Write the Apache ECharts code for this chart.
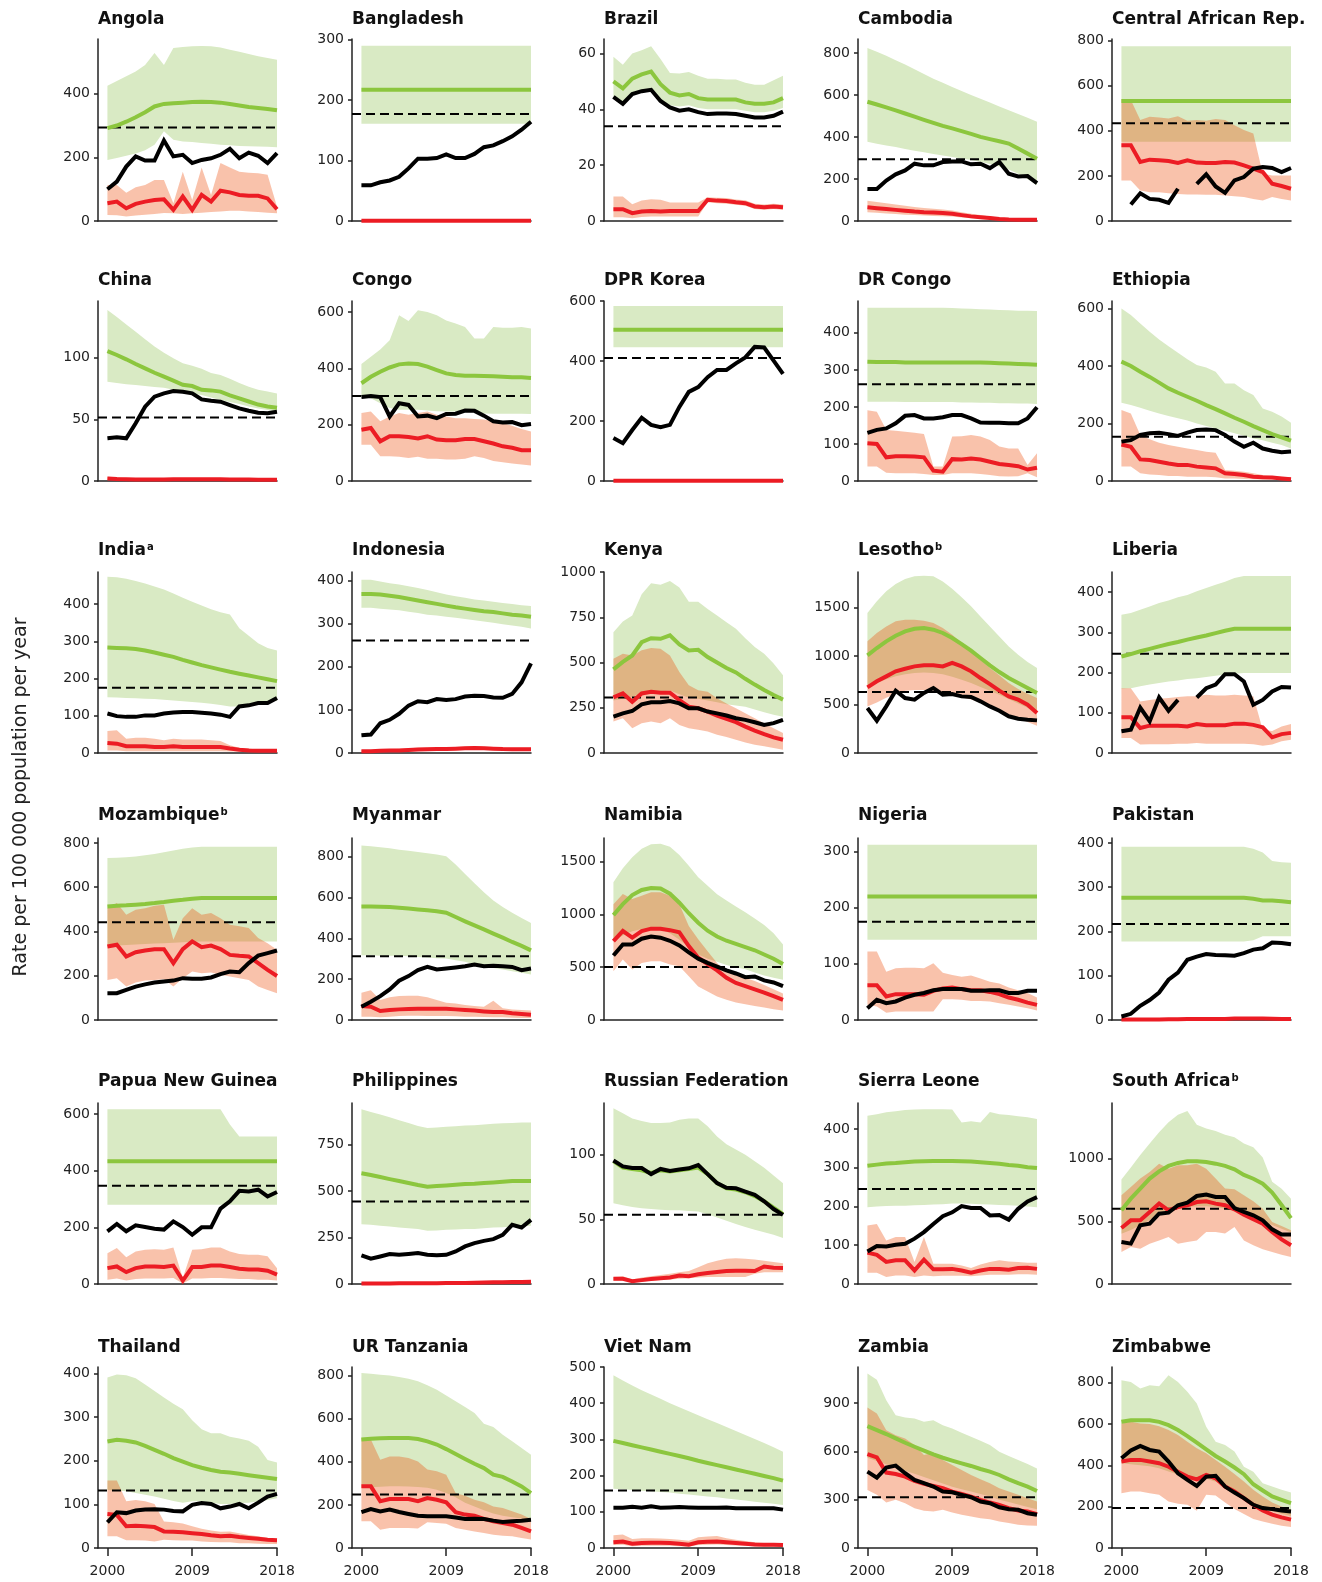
<!DOCTYPE html>
<html><head><meta charset="utf-8">
<script src="https://cdn.jsdelivr.net/npm/echarts@6/dist/echarts.min.js"></script>
<style>html,body{margin:0;padding:0;background:#fff}#c{width:1322px;height:1582px}</style>
</head><body><div id="c"></div>
<script>
// ---------------- DATA ----------------
const years = [2000,2001,2002,2003,2004,2005,2006,2007,2008,2009,2010,2011,2012,2013,2014,2015,2016,2017,2018];
const countries = ['Angola','Bangladesh','Brazil','Cambodia','Central African Rep.','China','Congo','DPR Korea','DR Congo','Ethiopia','India','Indonesia','Kenya','Lesotho','Liberia','Mozambique','Myanmar','Namibia','Nigeria','Pakistan','Papua New Guinea','Philippines','Russian Federation','Sierra Leone','South Africa','Thailand','UR Tanzania','Viet Nam','Zambia','Zimbabwe'];
const footnotes = ['','','','','','','','','','','a','','','b','','b','','','','','','','','','b','','','','',''];
const yMax  = [572,301,65.2,867,807,146,639,600,486,626,486,420,1000,1864,450,822,891,1722,324,411,639,973,140,467,1444,415,840,500,1123,875];
const yStep = [200,100,20,200,200,50,200,200,100,200,100,100,250,500,100,200,200,500,100,100,200,250,50,100,500,100,200,100,300,200];
const xTicks = [2000,2009,2018];
// dashed line (milestone)
const milestone = [294,177,33.9,294,433,51.6,302,410,261,154,175,261,307,628,247,441,312,502,175,217,347,443,53.6,245,601,132,248,159,315,193];

// estimated incidence (green line)
const estMid = [
[292,300,312,326,342,360,368,370,372,374,375,374,372,368,363,358,355,352,348],
[217,217,217,217,217,217,217,217,217,217,217,217,217,217,217,217,217,217,217],
[50,47.5,51,52.5,53.5,49,46,45,45.5,44,43.5,43.5,43.5,43.5,42.5,42,42,42.5,44],
[568,555,541,527,512,497,482,467,453,441,428,415,401,390,380,369,345,321,297],
[532,532,532,532,532,532,532,532,532,532,532,532,532,532,532,532,532,532,532],
[105.4,102.2,98.7,94.9,91.4,87.8,84.6,81.4,78,77,74,73.5,72.5,69.5,67,64.5,62,60.5,59.5],
[347,370,388,403,414,417,415,406,394,382,376,374,374,373,372,370,368,368,366],
[504,504,504,504,504,504,504,504,504,504,504,504,504,504,504,504,504,504,504],
[322,321,321,321,320,320,320,320,320,320,320,320,320,319,318,317,316,315,314],
[415,400,380,362,342,322,307,293,279,264,250,235,220,206,191,177,163,152,140],
[283,282,281,279,275,270,264,258,250,243,236,230,224,218,213,208,203,198,193],
[369,369,368,365,362,358,354,350,346,342,338,335,332,329,327,324,321,319,316],
[462,503,539,612,634,631,650,600,567,570,530,500,470,445,410,378,348,320,295],
[1006,1081,1150,1208,1253,1280,1287,1270,1236,1184,1122,1054,978,903,834,772,721,669,618],
[240,246,253,259,265,271,276,282,287,292,298,304,309,309,309,309,309,309,309],
[513,516,518,521,524,528,533,539,543,548,551,551,551,551,551,551,551,551,551],
[556,556,554,553,550,546,541,537,532,525,504,483,463,444,423,403,382,363,341],
[992,1096,1182,1230,1249,1245,1195,1110,1010,920,845,790,750,720,690,660,620,580,530],
[220,220,220,220,220,220,220,220,220,220,220,220,220,220,220,220,220,220,220],
[276,276,276,276,276,276,276,276,276,276,276,276,276,276,274,270,270,268,266],
[433,433,433,433,433,433,433,433,433,433,433,433,433,433,433,433,433,433,433],
[595,586,575,564,554,543,532,523,527,530,534,538,539,543,546,550,554,554,554],
[95,90,89,88,86,88,87,88,89,90,85,78,74,73,71,68,64,59,54],
[305,308,311,312,314,316,317,317.5,317.5,317.5,317,316,314,312,310,307,305,301,299],
[588,681,761,841,899,942,966,979,979,974,960,942,915,870,840,800,730,630,525],
[244,248,246,242,234,225,216,206,198,190,184,179,175,173,170,167,164,161,158],
[503,507,509,510,510,510,506,495,480,459,436,413,391,371,340,330,309,286,255],
[296,290,284,278,272,266,260,254,248,241,235,229,223,217,211,205,199,193,186],
[756,731,707,680,653,628,604,581,560,542,525,509,490,474,453,426,402,381,354],
[610,618,618,618,610,594,570,541,509,477,445,418,389,357,308,278,249,233,217]
];
// green band upper
const estHi = [
[425,440,455,470,490,528,490,544,547,549,550,549,545,538,532,525,518,512,507],
[290,290,290,290,290,290,290,290,290,290,290,290,290,290,290,290,290,290,290],
[58.8,56,60,61.2,62.6,58,53,52.8,53.4,52,51,51,50.7,50.7,49.5,48.8,48.8,50.4,52],
[824,806,787,766,745,723,700,678,658,638,619,600,582,564,546,528,510,492,473],
[775,775,775,775,775,775,775,775,775,775,775,775,775,775,775,775,775,775,775],
[138.7,133,127,121,115,109,104,99.5,95.5,93.5,91,87.5,86,83,79.5,76.5,74,72.5,71],
[415,441,467,500,588,568,606,600,588,570,559,547,506,506,547,544,544,547,541],
[583,583,583,583,583,583,583,583,583,583,583,583,583,583,583,583,583,583,583],
[468,468,468,468,468,468,468,468,468,467,466,465,464,463,462,461,460,460,459],
[600,577,548,519,492,469,446,423,403,395,380,339,339,316,299,252,241,224,203],
[473,472,468,462,455,447,439,428,417,406,396,386,378,372,335,315,295,282,275],
[402,402,398,394,391,387,383,378,373,368,364,360,356,354,351,348,346,343,341],
[667,726,759,877,938,929,950,914,835,835,795,759,722,686,634,585,548,494,430],
[1441,1562,1665,1740,1791,1819,1826,1819,1767,1692,1603,1510,1407,1304,1201,1098,1012,937,875],
[344,348,356,364,373,379,387,393,402,410,418,426,435,440,440,440,440,440,440],
[732,733,735,739,744,750,758,765,773,779,783,783,783,783,783,783,783,783,783],
[854,850,846,841,834,829,823,816,810,802,761,715,670,626,585,553,525,499,475],
[1303,1436,1541,1621,1662,1668,1640,1560,1460,1350,1271,1190,1130,1075,1020,960,900,820,715],
[312,312,312,312,312,312,312,312,312,312,312,312,312,312,312,312,312,312,312],
[391,391,391,391,391,391,391,391,391,391,391,391,391,391,387,378,359,356,355],
[617,617,617,617,617,617,617,617,617,617,617,617,617,563,521,521,521,521,521],
[939,925,911,897,880,866,850,839,841,845,848,852,854,857,861,864,866,868,868],
[136,132,128,126,124.5,124.5,125,127,128,128,122,114,108,104,100,95,90,84,78],
[434,438,443,446,449,450,451,451,451,450,417,420,417,444,438,436,433,430,426],
[833,930,1030,1120,1210,1290,1350,1380,1270,1240,1220,1190,1170,1120,1090,1010,815,760,680],
[391,398,396,389,375,360,345,331,318,293,272,263,263,255,251,246,232,202,196],
[812,809,804,800,794,786,774,755,735,708,681,654,627,577,562,526,495,464,433],
[477,463,449,436,424,412,400,389,378,367,356,345,334,323,312,301,290,278,266],
[1082,1044,917,824,810,803,783,793,762,742,715,690,665,639,597,571,546,521,494],
[811,803,771,787,782,835,803,755,699,586,514,498,466,393,369,313,297,281,268]
];
// green band lower
const estLo = [
[192,198,205,212,222,240,282,255,250,248,245,243,240,238,236,235,234,233,232],
[161,161,161,161,161,161,161,161,161,161,161,161,161,161,161,161,161,161,161],
[44,41.5,45,46.5,47.5,43.5,41.5,41,41.5,40.5,40,40,40,40,39.5,39,39,39.5,40.5],
[377,368,360,352,343,335,327,319,312,305,298,290,282,272,260,245,225,200,170],
[351,351,351,351,351,351,351,351,351,351,351,351,351,351,351,351,351,351,351],
[80.5,79.5,78.5,77.8,77,76.3,75.7,74,72.4,71,69.7,67.7,65.7,64,62.4,60.5,58.9,57.5,56.2],
[300,294,276,259,253,253,253,250,248,247,247,247,247,240,239,239,239,239,238],
[446,446,446,446,446,446,446,446,446,446,446,446,446,446,446,446,446,446,446],
[214,214,214,214,213,213,213,213,213,213,212,212,211,211,210,210,209,209,208],
[272,264,255,244,235,226,218,210,200,191,183,175,166,157,148,142,133,125,113],
[150,149,148,147,146,145,143,141,139,137,135,132,129,125,125,130,135,138,140],
[337,337,335,333,331,328,325,321,319,316,314,311,308,305,302,299,296,293,289],
[290,300,310,330,340,340,345,325,305,300,290,280,270,262,255,240,225,212,200],
[680,720,760,790,810,825,830,825,810,785,755,720,680,640,600,555,510,465,420],
[160,161,166,170,174,178,180,184,186,189,192,195,197,199,199,199,199,199,199],
[335,337,339,341,343,345,347,349,351,353,355,355,355,355,355,355,355,355,355],
[317,317,315,314,314,312,309,306,302,301,293,285,273,263,255,247,239,231,223],
[750,800,840,860,870,860,820,760,690,620,580,550,520,500,480,450,420,400,380],
[143,143,143,143,143,143,143,143,143,143,143,143,143,143,143,143,143,143,143],
[177,177,177,177,177,177,177,177,177,177,177,177,177,177,180,189,189,189,189],
[280,280,280,280,280,280,280,280,280,280,280,280,280,280,280,280,280,280,280],
[321,318,313,309,304,300,295,286,288,291,293,295,296,300,304,305,309,311,313],
[62.5,61,59.5,58.5,58,57.5,57,57,56.5,56,54,51.5,49,46.5,44,42,40,38,35.5],
[198,200,201,202,202,203,204,205,206,208,208,207,206,205,204,203,202,200,198],
[400,430,470,510,550,580,600,615,620,620,615,600,580,555,530,500,470,440,410],
[133,132,130,126,122,118,113,108,104,107,107,104,101,101,103,104,107,110,114],
[280,282,284,286,286,285,283,280,270,255,235,210,193,175,160,150,143,137,131],
[164,162,160,158,157,155,153,150,148,145,142,140,137,134,131,128,125,122,119],
[560,540,520,500,480,460,440,420,400,380,365,350,335,320,300,285,270,255,240],
[410,405,400,395,385,370,355,345,340,335,320,300,270,240,215,195,180,165,155]
];
// HIV-positive incidence (red line)
const hivMid = [
[56,61,40,54,61,66,68,35,77,35,82,61,95,90,82,79,79,71,37],
[0.4,0.4,0.4,0.4,0.4,0.4,0.4,0.4,0.4,0.4,0.4,0.4,0.4,0.4,0.4,0.4,0.4,0.4,0.4],
[4.2,4.2,2.8,3.4,3.6,3.4,3.6,3.6,3.6,3.6,7.6,7.3,7.2,6.7,6.4,5.2,4.9,5.2,4.9],
[65,61,57,53,49,45,42,40,38,34,28,22,18,14,10,7,6,6,6],
[336,336,262,272,269,266,257,269,259,257,257,262,259,247,232,217,165,155,143],
[2,1.6,1.4,1.3,1.3,1.3,1.3,1.4,1.4,1.4,1.4,1.4,1.4,1.3,1.2,1.2,1.1,1.1,1.1],
[182,188,141,159,159,156,151,159,147,145,145,149,149,141,133,123,118,109,109],
[1,1,1,1,1,1,1,1,1,1,1,1,1,1,1,1,1,1,1],
[102,100,64,67,67,66,64,28,25,59,58,61,58,52,46,43,40,31,36],
[127,119,75,73,67,61,56,56,50,47,44,27,24,21,15,13,12,9,6],
[27,25,18,18,18,16,16,18,16,16,16,16,16,12,9,7,6,6,6],
[4,4,5,6,6,7,8,8.5,9,9,10,11,11.5,11,10,9,8.5,8.5,8.5],
[307,329,283,329,338,333,333,292,256,247,229,207,188,170,146,124,104,86,73],
[676,738,789,841,868,892,903,903,892,927,892,841,772,710,642,583,549,498,412],
[89,89,62,68,68,68,68,66,72,69,69,69,73,73,70,64,39,47,50],
[332,340,287,306,314,320,320,257,320,355,329,336,320,294,290,287,257,226,199],
[68,65,44,49,52,54,55,55,55,55,52,49,46,42,39,39,33,29,26],
[747,842,779,842,864,864,850,830,700,590,530,470,400,350,320,290,260,225,190],
[62,62,42,46,46,46,45,52,56,58,55,53,53,50,46,40,36,31,27],
[1,1,1,1,1,1.5,1.5,2,2,2,2.5,2,3.5,3.5,3.5,3.5,3,2,2],
[56,62,42,56,62,62,60,65,12,60,60,65,65,60,54,51,51,47,33],
[3,3,3,3,3.5,4,4,4,4.5,5,5.5,6,7,8,9,10,11,11,12],
[4,4,2.2,3,3.8,4.5,5,6.5,6,7.5,8.5,9.3,10,10.3,10.3,10,13.5,12.5,12.3],
[81,75,57,61,61,35,63,38,38,39,35,29,35,39,39,37,41,42,39],
[447,508,508,575,641,588,614,628,654,660,641,628,596,553,516,481,415,356,309],
[78,76,50,51,50,48,38,37,36,34,32,29,27,28,25,23,21,19,18],
[286,286,217,227,227,227,217,232,224,212,166,155,150,135,124,116,108,93,77],
[16,18,12,14,14.5,14.5,14,12,9,16,17,18,16,14,12,10,9,9,8],
[583,562,468,459,443,416,398,385,371,350,336,319,299,282,268,247,233,227,210],
[418,426,426,418,410,393,369,345,332,353,337,297,273,241,209,181,161,148,137]
];
// red band upper (null = no band drawn)
const hivHi = [
[113,113,89,106,113,129,129,56,155,66,168,82,182,168,155,152,150,145,45],
null,
[8.8,8.8,6,7.3,7.8,7.6,6.6,6.6,6.6,6.6,8.5,8.3,8.2,7.7,7.4,6.2,5.9,6.2,5.9],
[97,91,85,79,73,67,62,58,55,50,42,34,28,22,17,13,11,10,10],
[540,537,448,462,459,455,465,445,448,445,452,448,425,403,388,210,202,202,202],
[3.5,3,2.5,2.3,2.2,2.2,2.2,2.3,2.3,2.3,2.3,2.3,2.3,2.2,2,2,1.9,1.9,1.9],
[241,247,212,229,241,235,241,247,235,229,223,223,220,218,212,206,196,185,176],
null,
[191,187,138,136,133,130,127,39,39,120,121,124,120,111,93,88,88,43,75],
[247,235,160,145,133,125,119,113,108,102,98,38,36,32,27,21,17,15,13],
[59,61,38,41,41,38,34,38,36,36,36,34,32,21,14,12,9,9,9],
[7,7,8,9,10,11,12,13,13,14,14,15,16,15,14,13,12,12,12],
[521,548,539,567,580,576,539,448,375,347,338,302,274,247,219,192,165,137,110],
[1150,1236,1304,1356,1373,1373,1362,1338,1287,1218,1133,1047,961,875,800,721,660,610,566],
[161,161,128,132,135,137,139,141,141,145,143,143,145,143,141,58,55,66,72],
[505,528,475,498,505,516,521,362,460,505,475,483,460,430,423,415,370,347,317],
[133,146,98,111,117,119,119,111,98,85,81,73,68,65,94,57,52,49,46],
[1096,1192,1144,1176,1208,1208,1176,1096,890,763,651,540,461,430,400,370,330,290,250],
[122,122,86,92,93,93,92,101,84,80,77,79,74,68,65,58,53,48,40],
null,
[109,127,94,115,121,123,121,129,21,121,123,129,129,115,106,103,103,98,56],
null,
[5.5,6,3.5,5,6,7,8,9,10,13,16,18,19.5,20,19.5,19,18,17,16],
[151,155,112,121,121,57,121,52,52,52,48,41,50,57,61,58,57,55,55],
[708,774,841,894,960,920,947,947,960,920,841,761,755,708,660,601,495,463,428],
[155,155,107,110,107,101,61,59,56,50,44,40,37,38,34,30,27,23,21],
[510,503,410,425,425,418,402,364,356,340,255,243,224,212,193,186,170,155,135],
[35,37,25,27,27,26,25,23,20,30,32,33,27,23,19,16,14,13,12],
[871,834,731,700,680,639,577,591,546,515,484,453,426,402,371,350,330,309,288],
[602,610,602,599,589,570,546,514,482,458,426,393,358,321,281,249,220,201,185]
];
// red band lower
const hivLo = [
[19,18,14,17,20,22,25,24,22,24,26,28,30,32,32,30,28,26,24],
null,
[1.3,1.3,1,1.4,1.6,1.6,1.6,1.6,1.6,1.6,6.7,6.4,6.2,5.8,5.5,4.3,4,4.3,4],
[42,39,36,33,30,28,26,24,23,21,17,13,10,7,5,3,2,2,2],
[180,180,135,128,128,123,120,117,117,116,116,113,110,106,98,91,106,98,91],
[1,0.8,0.7,0.6,0.6,0.6,0.6,0.6,0.6,0.6,0.6,0.6,0.6,0.6,0.5,0.5,0.5,0.5,0.5],
[129,129,88,88,86,82,86,79,79,76,76,79,88,82,71,67,62,59,55],
null,
[39,39,22,21,21,21,19,16,16,21,21,21,19,16,13,12,13,21,10],
[50,50,27,23,21,17,17,15,15,15,13,9,9,7,6,5,5,3,2],
[7,7,5,5,5,5,5,5,5,5,5,5,5,4,4,4,4,4,4],
[2,2,3,3.5,4,4.5,5,5.5,6,6,6.5,7,7.5,7,6.5,6,5.5,5.5,5.5],
[174,192,137,165,174,165,192,155,137,128,119,101,88,73,58,46,37,27,18],
[480,520,570,610,640,650,650,640,620,600,575,550,520,480,440,400,360,320,280],
[37,37,21,22,22,22,23,23,25,23,23,23,23,23,22,18,21,29,33],
[181,189,151,169,178,181,184,151,189,219,211,214,204,196,189,181,151,136,121],
[16,16,13,16,20,21,21,20,20,20,18,16,16,15,13,13,11,10,10],
[461,572,477,540,556,556,524,508,413,318,270,222,191,165,149,133,118,102,89],
[27,24,13,15,15,15,15,15,37,37,36,34,34,33,30,27,24,21,17],
null,
[15,19,12,18,19,19,19,21,2,19,19,21,21,19,18,18,15,15,12],
null,
[2.5,2.5,1.5,2,2.5,3,3.5,4,4.5,5,5.5,5.5,5.5,5.5,5.5,8,9,9,9],
[29,29,18,22,22,18,22,20,21,21,21,20,22,24,24,24,25,25,24],
[255,295,282,322,348,375,322,335,348,415,415,402,455,348,309,277,255,234,215],
[27,27,18,18,17,15,19,18,17,17,15,14,13,13,11,11,10,9,9],
[124,124,85,93,93,93,90,119,116,113,93,85,77,70,62,57,54,46,39],
[8,9,5,6,6,6,6,5,4,8,9,10,8,7,6,5,4,4,4],
[360,330,282,299,278,247,231,227,237,220,206,196,185,179,165,155,144,140,138],
[265,273,273,265,257,225,214,209,180,257,254,220,188,164,140,128,117,108,101]
];
// notified (black line), null = no data
const notified = [
[100,124,171,203,190,190,253,203,208,182,192,197,208,227,197,215,205,182,213],
[59,59,64,67,73,87,103,103,104,110,104,104,111,122,125,132,140,151,164],
[44.5,42,45.5,46.5,47,43,40.7,39.5,40,39,38.3,38.5,38.5,38.3,37.7,37.1,37.1,37.7,39.2],
[153,153,193,222,241,273,265,265,281,284,284,270,273,252,281,225,212,214,180],
[null,73,123,98,94,80,143,null,165,207,153,125,180,195,232,239,235,217,235],
[34.6,35.4,34.6,46.8,60.3,68.4,71.1,73,72.4,71.1,66.2,65.1,64.3,61.6,58.9,57,55.4,54.9,56.2],
[298,302,298,229,276,270,229,232,223,238,239,250,249,232,212,208,209,198,202],
[143,126,170,211,187,179,187,247,297,313,346,370,370,392,412,447,445,401,357],
[130,138,142,156,176,178,169,169,172,178,178,169,158,157,157,156,156,169,199],
[137,142,160,166,168,163,157,168,177,179,177,160,137,119,133,113,105,100,103],
[106,99,97,97,101,101,106,109,110,110,108,106,103,97,125,128,134,134,148],
[41,43,69,77,91,110,120,118,125,123,125,131,133,132,129,128,137,164,208],
[201,219,232,269,280,280,287,274,247,247,229,219,207,192,183,170,155,165,183],
[463,333,480,642,566,549,618,669,601,607,583,577,532,480,436,378,353,343,336],
[54,58,113,79,138,105,132,null,138,161,170,196,196,178,120,132,153,164,163],
[121,121,136,151,161,169,174,178,189,186,186,192,207,219,216,257,291,302,314],
[65,89,117,150,192,215,244,260,247,252,257,263,272,263,265,263,260,244,252],
[610,715,715,769,790,779,750,705,640,580,540,505,470,440,405,412,375,355,320],
[21,36,30,33,40,45,48,53,55,55,55,52,52,53,53,48,48,52,52],
[8,14,32,45,62,91,107,136,143,149,147,146,145,151,159,162,175,174,171],
[186,212,186,207,201,195,192,221,201,174,200,200,266,292,329,327,333,309,325],
[154,136,148,161,157,161,166,157,154,157,175,202,220,232,241,264,318,304,345],
[95.5,91,89.7,89.7,85,89,87.5,88.5,89.5,92,85,78,74.5,74,71.5,69,64,58,53.5],
[84,98,97,101,104,117,134,155,175,185,201,196,196,177,178,166,194,213,224],
[335,322,468,481,561,569,628,649,702,713,694,694,606,575,548,508,436,394,394],
[59,82,80,86,88,89,88,85,84,99,103,101,91,95,101,91,104,118,124],
[166,181,170,178,167,158,150,147,147,147,142,135,136,135,127,121,124,127,131],
[111,111,114,111,115,111,112,113,112,111,111,111,112,110,110,110,110,110,106],
[474,437,499,511,464,422,402,381,350,346,330,315,288,278,253,241,237,216,206],
[434,471,493,474,466,418,361,329,300,345,349,297,268,241,209,193,188,181,177]
];

// ---------------- LAYOUT / STYLE ----------------
const colLeft = [98, 352, 604, 858, 1112];
const gridW = 179;
const rowTop = [39, 301, 572, 838, 1103, 1367];
const rowBottom = [221, 481, 753, 1020, 1284, 1548];
const titleMid = [19, 280, 550, 815, 1081, 1347];
const C = {
  greenBand: '#d9eac4', green: '#8cc63e',
  redBand: 'rgba(237,70,0,0.33)', red: '#ec1c24',
  black: '#000000', axis: '#222222'
};
const tickFont = 'DejaVu Sans';
const plainNum = v => String(v);

const grids = [], xAxes = [], yAxes = [], series = [], titles = [];

function bandSeries(i, lo, hi, color, z) {
  return {
    type: 'custom', xAxisIndex: i, yAxisIndex: i, z: z, silent: true,
    data: [[years[0], lo[0]]],
    renderItem: function (params, api) {
      const pts = [];
      for (let k = 0; k < years.length; k++) pts.push(api.coord([years[k], hi[k]]));
      for (let k = years.length - 1; k >= 0; k--) pts.push(api.coord([years[k], lo[k]]));
      return { type: 'polygon', shape: { points: pts }, style: { fill: color } };
    }
  };
}
function lineSeries(i, arr, color, z) {
  return {
    type: 'line', xAxisIndex: i, yAxisIndex: i, z: z, silent: true, clip: false,
    symbol: 'none', showSymbol: false,
    data: years.map((y, k) => [y, arr[k] == null ? '-' : arr[k]]),
    lineStyle: { color: color, width: 4, cap: 'butt', join: 'miter' }
  };
}

countries.forEach((name, i) => {
  const r = Math.floor(i / 5), c = i % 5;
  const isBottom = r === 5;
  grids.push({ left: colLeft[c], top: rowTop[r], width: gridW, height: rowBottom[r] - rowTop[r], outerBoundsMode: 'none', containLabel: false });
  xAxes.push({
    gridIndex: i, type: 'value', min: 1999, max: 2018,
    axisLine: { show: true, onZero: false, lineStyle: { color: C.axis, width: 1.5 } },
    axisTick: { show: isBottom, customValues: xTicks, length: 8, lineStyle: { color: C.axis, width: 1.5 } },
    axisLabel: { show: isBottom, customValues: xTicks, margin: 16, fontFamily: tickFont, fontSize: 14, color: '#222', formatter: plainNum },
    splitLine: { show: false }
  });
  const ticks = [];
  for (let v = 0; v <= yMax[i] + 1e-9; v += yStep[i]) ticks.push(v);
  yAxes.push({
    gridIndex: i, type: 'value', min: 0, max: yMax[i],
    axisLine: { show: true, lineStyle: { color: C.axis, width: 1.5 } },
    axisTick: { show: true, customValues: ticks, length: 4, lineStyle: { color: C.axis, width: 1.5 } },
    axisLabel: { customValues: ticks, margin: 8, fontFamily: tickFont, fontSize: 14, color: '#222', formatter: plainNum },
    splitLine: { show: false }
  });
  titles.push({
    text: footnotes[i] ? name + '{sup|' + footnotes[i] + '}' : name,
    left: colLeft[c], top: titleMid[r] - 8, padding: 0,
    textStyle: {
      fontFamily: 'DejaVu Sans', fontWeight: 'bold', fontSize: 17, color: '#111',
      rich: { sup: { fontFamily: 'DejaVu Sans', fontWeight: 'bold', fontSize: 10, color: '#111', verticalAlign: 'bottom', padding: [0, 0, 8, 1] } }
    }
  });
  series.push(bandSeries(i, estLo[i], estHi[i], C.greenBand, 1));
  if (hivHi[i]) series.push(bandSeries(i, hivLo[i], hivHi[i], C.redBand, 2));
  series.push({
    type: 'line', xAxisIndex: i, yAxisIndex: i, z: 3, silent: true, clip: false, symbol: 'none',
    data: [[1999, milestone[i]], [2018, milestone[i]]],
    lineStyle: { color: '#000', width: 2, type: [9, 5] }
  });
  series.push(lineSeries(i, estMid[i], C.green, 4));
  series.push(lineSeries(i, hivMid[i], C.red, 5));
  series.push(lineSeries(i, notified[i], C.black, 6));
});

const chart = echarts.init(document.getElementById('c'), null, { renderer: 'canvas', width: 1322, height: 1582 });
chart.setOption({
  animation: false,
  backgroundColor: '#ffffff',
  title: titles,
  grid: grids,
  xAxis: xAxes,
  yAxis: yAxes,
  series: series,
  graphic: [{
    type: 'text', x: 21, y: 797, rotation: Math.PI / 2,
    style: { text: 'Rate per 100 000 population per year', fontFamily: 'DejaVu Sans', fontSize: 19, fill: '#222', align: 'center', verticalAlign: 'middle' }
  }]
});
</script></body></html>
